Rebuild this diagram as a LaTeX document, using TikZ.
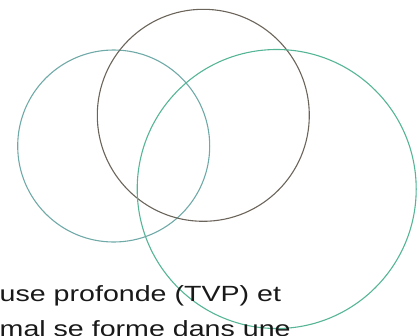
\documentclass[tikz,border=0pt]{standalone}
\usepackage{fontspec}
\setmainfont{Liberation Sans}
\usepackage{tikz}
\usetikzlibrary{positioning}
\definecolor{LeftTeal}{HTML}{6FA9A8}
\definecolor{TopBrown}{HTML}{6B645A}
\definecolor{RightTeal}{HTML}{55B596}

\begin{document}
\begin{tikzpicture}[x=1pt, y=-1pt,
  ring/.style={line width=1.1pt},
  para/.style={anchor=base west, inner sep=0pt, font=\fontsize{22}{35}\selectfont, text=black!90}]
\clip (0,0) rectangle (420,335);
\foreach \cx/\cy/\r/\col in {113.7/146/96/LeftTeal, 203.3/115.3/106/TopBrown, 276.7/189/139.5/RightTeal}
  \draw[ring, draw=\col] (\cx,\cy) circle[radius=\r];
\node[para] (lineA) at (-0.5,301) {\scalebox{1.3}[1]{use profonde (TVP) et}};
\node[para] (lineB) at (-0.5,336) {\scalebox{1.3}[1]{mal se forme dans une}};
\end{tikzpicture}
\end{document}
